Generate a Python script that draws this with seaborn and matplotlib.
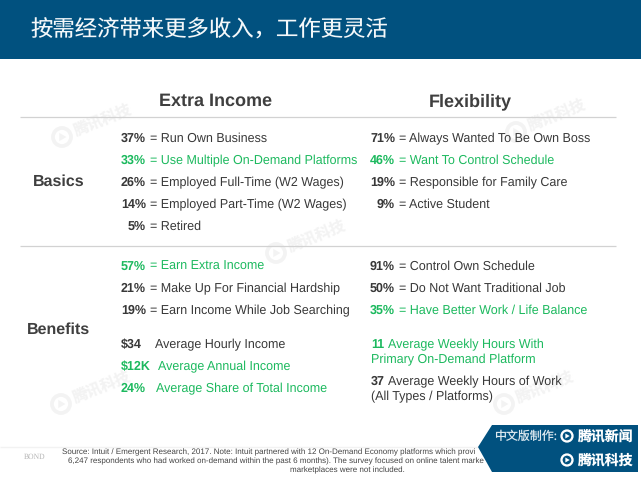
import matplotlib
matplotlib.use('Agg')
import matplotlib.pyplot as plt
import seaborn as sns
from matplotlib.patches import Circle, Polygon, Rectangle

sns.set_theme(style='white')
plt.rcParams['font.family'] = ['Liberation Sans', 'Noto Sans CJK SC', 'DejaVu Sans']
plt.rcParams['text.hinting'] = 'no_hinting'
plt.rcParams['text.hinting_factor'] = 8

CJK = ['Noto Sans CJK SC', 'DejaVu Sans']
DARK = '#383838'
GREEN = '#1cb95e'
BLUE = '#01517f'
FS = 9.0

title = '按需经济带来更多收入，工作更灵活'
col_heads = ['Extra Income', 'Flexibility']
row_heads = ['Basics', 'Benefits']

# 百分比 / 文字 / 是否绿色
basics_income_pct = ['37%', '33%', '26%', '14%', '5%']
basics_income_txt = ['= Run Own Business', '= Use Multiple On-Demand Platforms',
                     '= Employed Full-Time (W2 Wages)', '= Employed Part-Time (W2 Wages)',
                     '= Retired']
basics_income_green = [0, 1, 0, 0, 0]

basics_flex_pct = ['71%', '46%', '19%', '9%']
basics_flex_txt = ['= Always Wanted To Be Own Boss', '= Want To Control Schedule',
                   '= Responsible for Family Care', '= Active Student']
basics_flex_green = [0, 1, 0, 0]

benefit_income_pct = ['57%', '21%', '19%']
benefit_income_txt = ['= Earn Extra Income', '= Make Up For Financial Hardship',
                      '= Earn Income While Job Searching']
benefit_income_green = [1, 0, 0]

benefit_flex_pct = ['91%', '50%', '35%']
benefit_flex_txt = ['= Control Own Schedule', '= Do Not Want Traditional Job',
                    '= Have Better Work / Life Balance']
benefit_flex_green = [0, 0, 1]

avg_income_val = ['$34', '$12K', '24%']
avg_income_txt = ['Average Hourly Income', 'Average Annual Income', 'Average Share of Total Income']
avg_income_green = [0, 1, 1]
avg_income_txt_x = [155, 158, 156]

hours_val = ['11', '37']
hours_line1 = ['Average Weekly Hours With', 'Average Weekly Hours of Work']
hours_line2 = ['Primary On-Demand Platform', '(All Types / Platforms)']
hours_green = [1, 0]
hours_txt_x = [388, 388]

# 原图这两行被角标挡住，只保留看得见的部分
source_lines = ['Source: Intuit / Emergent Research, 2017. Note: Intuit partnered with 12 On-Demand Economy platforms which provi',
                '6,247 respondents who had worked on-demand within the past 6 months). The survey focused on online talent marke',
                'marketplaces were not included.']
source_x = [62, 68, 290]

wm_points = [(56, 137), (270, 253), (510, 132), (55, 404), (498, 404)]

fig = plt.figure(figsize=(6.41, 4.79), dpi=100, facecolor='white')
ax = fig.add_axes([0, 0, 1, 1])
ax.set_xlim(0, 641)
ax.set_ylim(479, 0)
sns.despine(ax=ax, left=True, bottom=True)
ax.set_xticks([])
ax.set_yticks([])


def color_of(flag):
    return GREEN if flag else DARK


def put(x, y, s, **kw):
    # 基线对齐，粗体和常规文字才在同一高度
    ax.text(x, y + 4.0, s, va='baseline', fontsize=kw.pop('fontsize', FS), zorder=3, **kw)


def pct_rows(pcts, txts, greens, ys, right_x):
    for p, t, g, y in zip(pcts, txts, greens, ys):
        c = color_of(g)
        put(right_x, y, p, ha='right', fontweight='bold', color=c)
        put(right_x + 4, y, t, ha='left', color=c)


def logo(x, y, r, color, zorder):
    ax.add_patch(Circle((x, y), r, fill=False, ec=color, lw=r * 0.3, zorder=zorder))
    ax.add_patch(Polygon([(x - r * 0.3, y - r * 0.45), (x + r * 0.5, y), (x - r * 0.3, y + r * 0.45)],
                         fc=color, ec='none', zorder=zorder))


# 水印
for wx, wy in wm_points:
    logo(wx + 6, wy, 9, '#f3f3f3', 1)
    ax.text(wx + 19, wy - 6, '腾讯科技', family=CJK, fontsize=11, fontweight='bold', color='#f3f3f3',
            rotation=22, rotation_mode='anchor', ha='left', va='center', zorder=1)

# 顶部标题栏
ax.add_patch(Rectangle((0, 0), 641, 59, fc=BLUE, ec='none', zorder=2))
ax.text(30, 30, title, family=CJK, fontsize=16.1, fontweight='light', color='#f4f8fa',
        ha='left', va='center', zorder=3)

# 表头
for h, x in zip(col_heads, [216, 470]):
    ax.text(x, 106, h, ha='center', va='baseline', fontsize=13, fontweight='bold', color='#3f3f3f', zorder=3)
for h, x, y in zip(row_heads, [58.5, 58.5], [186, 334]):
    ax.text(x, y, h, ha='center', va='baseline', fontsize=11.5, fontweight='bold', color='#3f3f3f', zorder=3)

ax.hlines([116.5, 246], 20, 616, color='#d2d2d2', lw=0.9, zorder=2)

pct_rows(basics_income_pct, basics_income_txt, basics_income_green, [138, 160, 182, 204, 226], 146)
pct_rows(basics_flex_pct, basics_flex_txt, basics_flex_green, [138, 160, 182, 204], 395)
pct_rows(benefit_income_pct, benefit_income_txt, benefit_income_green, [266, 288, 310], 146)
pct_rows(benefit_flex_pct, benefit_flex_txt, benefit_flex_green, [266, 288, 310], 395)

for v, t, g, tx, y in zip(avg_income_val, avg_income_txt, avg_income_green, avg_income_txt_x, [344, 366, 388]):
    put(121, y, v, ha='left', fontweight='bold', color=color_of(g))
    put(tx, y, t, ha='left', color=color_of(g))

for v, a, b, g, tx, y in zip(hours_val, hours_line1, hours_line2, hours_green, hours_txt_x, [344, 381]):
    put(371, y, v, ha='left', fontweight='bold', color=color_of(g))
    put(tx, y, a, ha='left', color=color_of(g))
    put(371, y + 15, b, ha='left', color=color_of(g))

# 页脚
ax.hlines(447, 0, 480, color='#f2f2f2', lw=1, zorder=2)
ax.text(24, 457, 'BOND', family='Liberation Serif', fontsize=5.5, color='#b5b5b5', ha='left', va='center', zorder=3)
for s, x, y in zip(source_lines, source_x, [452, 461, 470]):
    ax.text(x, y, s, fontsize=5.8, color='#444444', ha='left', va='center', zorder=3)

# 右下角标识
ax.add_patch(Polygon([(478, 447), (492, 425), (638, 425), (638, 472), (492, 472)], fc=BLUE, ec='none', zorder=4))
ax.add_patch(Rectangle((638, 420), 3, 59, fc='white', ec='none', zorder=4))
ax.text(494, 436, '中文版制作:', family=CJK, fontsize=8.6, color='#dce8ef', ha='left', va='center', zorder=5)
ax.text(578, 436, '腾讯新闻', family=CJK, fontsize=10, fontweight='bold', color='white', ha='left', va='center', zorder=5)
ax.text(578, 460, '腾讯科技', family=CJK, fontsize=10, fontweight='bold', color='white', ha='left', va='center', zorder=5)
logo(567, 436, 5.5, 'white', 5)
logo(567, 460, 5.5, 'white', 5)

fig.savefig('out.png', dpi=100)
